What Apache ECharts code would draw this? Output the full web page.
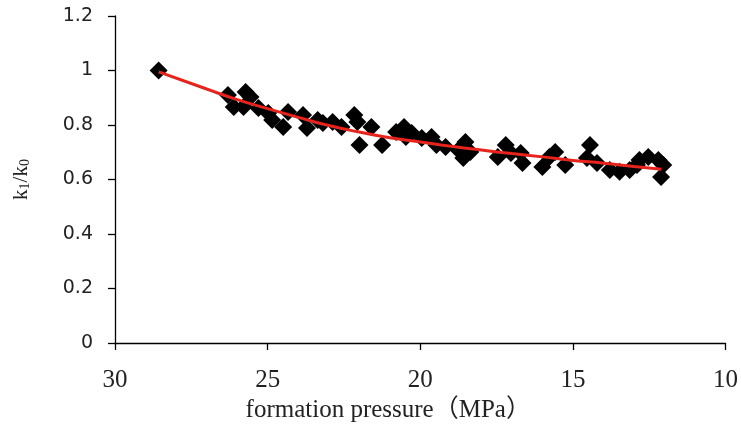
<!DOCTYPE html>
<html>
<head>
<meta charset="utf-8">
<script src="https://cdn.jsdelivr.net/npm/echarts@6/dist/echarts.min.js"></script>
<style>html,body{margin:0;padding:0;background:#fff;}#c{width:741px;height:434px;}</style>
</head>
<body>
<div id="c"></div>
<script>
// Measured points: formation pressure (MPa) and k1/k0
const pressure = [28.57,26.30,26.11,25.72,25.56,25.79,25.30,24.98,24.85,24.49,24.33,23.84,23.71,
  23.36,23.19,22.87,22.58,22.16,22.06,21.99,21.60,21.25,20.79,20.47,
  20.53,20.28,19.95,19.63,19.47,19.17,18.52,18.36,18.59,18.75,17.46,17.20,
  17.03,16.71,16.65,16.00,15.77,15.58,15.25,14.44,14.54,14.21,
  13.79,13.47,13.14,12.82,12.53,12.20,12.04,12.11,12.90];
const ratio = [1.00,0.910,0.866,0.921,0.903,0.866,0.862,0.844,0.818,0.793,0.848,0.837,0.789,
  0.818,0.807,0.811,0.793,0.837,0.811,0.727,0.793,0.727,0.774,0.756,
  0.793,0.771,0.752,0.756,0.727,0.719,0.738,0.701,0.679,0.708,0.683,0.727,
  0.697,0.697,0.661,0.646,0.683,0.701,0.653,0.727,0.679,0.661,
  0.635,0.628,0.635,0.672,0.683,0.672,0.653,0.609,0.653];
// Red trend curve
const trendP = [28.57,27,26,25,24,23,22,21,20,19,18,17,16,15,14,13,12.1];
const trendV = [0.995,0.932,0.893,0.860,0.828,0.798,0.774,0.753,0.738,0.722,0.708,0.695,0.683,0.670,0.660,0.648,0.638];
const xTicks = [10,15,20,25,30];
const yTicks = [0,0.2,0.4,0.6,0.8,1,1.2];

const chart = echarts.init(document.getElementById('c'), null, {renderer:'canvas'});
const axisCommon = {
  axisLine:{show:true,lineStyle:{color:'#000',width:1.3}},
  axisTick:{show:true,inside:false,length:7,lineStyle:{color:'#000',width:1.3}},
  splitLine:{show:false}
};
chart.setOption({
  animation:false,
  backgroundColor:'#fff',
  grid:{left:113,right:11,top:16,bottom:91,containLabel:false},
  xAxis:Object.assign({
    type:'value', inverse:true, min:xTicks[0], max:xTicks[xTicks.length-1], interval:5,
    name:'formation pressure（MPa）', nameLocation:'middle', nameGap:55,
    nameTextStyle:{fontFamily:'Liberation Serif, Noto Sans CJK SC', fontSize:25, color:'#222', padding:[0,64,0,0]},
    axisLabel:{margin:25, fontFamily:'Liberation Serif', fontSize:25, color:'#222'}
  }, axisCommon),
  yAxis:Object.assign({
    type:'value', min:yTicks[0], max:yTicks[yTicks.length-1], interval:0.2,
    name:'{n|k}{s|1}{n|/k}{s|0}', nameLocation:'middle', nameGap:83, nameRotate:90,
    nameTextStyle:{fontFamily:'Liberation Serif', fontSize:21, color:'#222',
      rich:{
        n:{fontFamily:'Liberation Serif', fontSize:21, color:'#222', lineHeight:28, verticalAlign:'bottom'},
        s:{fontFamily:'Liberation Serif', fontSize:14, color:'#222', lineHeight:28, verticalAlign:'bottom', padding:[10,0,0,0]}
      }},
    axisLabel:{margin:22, fontFamily:'DejaVu Sans', fontSize:19, color:'#222'}
  }, axisCommon),
  series:[
    {type:'scatter', data:pressure.map((p,i)=>[p,ratio[i]]), symbol:'diamond', symbolSize:18,
     itemStyle:{color:'#000', opacity:1}, z:2},
    {type:'line', data:trendP.map((p,i)=>[p,trendV[i]]), smooth:true, showSymbol:false, symbol:'none',
     lineStyle:{color:'#e8231b', width:3}, z:3}
  ]
});
</script>
</body>
</html>
